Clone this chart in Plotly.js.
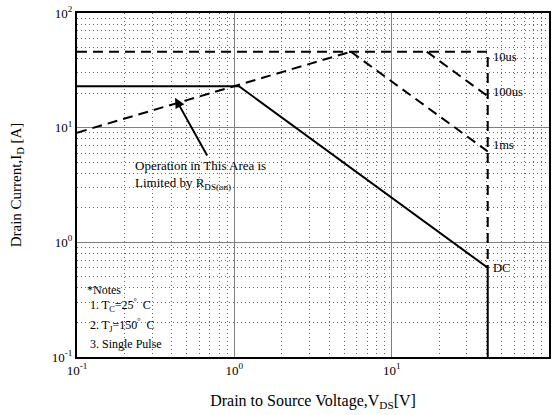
<!DOCTYPE html>
<html>
<head>
<meta charset="utf-8">
<script src="https://cdn.plot.ly/plotly-3.0.1.min.js"></script>
<style>
  html, body { margin: 0; padding: 0; background: #fff; }
  #soa { width: 558px; height: 415px; }
</style>
</head>
<body>
<div id="soa"></div>
<script>
// Safe operating area: drain current vs drain-source voltage
const dcVds = [0.1, 1.07, 40.8, 40.8];
const dcId = [23, 23, 0.6, 0.1];

const rdsVds = [0.1, 5.5];
const rdsId = [9.04, 46];

const us10Vds = [0.1, 40.8, 40.8];
const us10Id = [46, 46, 0.6];

const us100Vds = [16.7, 40.8];
const us100Id = [46, 18.8];

const ms1Vds = [5.5, 40.8];
const ms1Id = [46, 6.2];

const tickVals = [0.1, 1, 10, 100];
const tickText = ['10<sup>-1</sup>', '10<sup>0</sup>', '10<sup>1</sup>', '10<sup>2</sup>'];
const minorVals = [
  0.2, 0.3, 0.4, 0.5, 0.6, 0.7, 0.8, 0.9,
  2, 3, 4, 5, 6, 7, 8, 9,
  20, 30, 40, 50, 60, 70, 80, 90
];

const curveLabels = ['10us', '100us', '1ms', 'DC'];
const curveLabelVds = [40.8, 40.8, 40.8, 40.8];
const curveLabelId = [41, 20.5, 7.1, 0.6];

const noteLines = ['*Notes', ' 1. T<sub>C</sub>=25<sup>°</sup>  C', ' 2. T<sub>J</sub>=150<sup>°</sup>  C', ' 3. Single Pulse'];
const noteId = [0.385, 0.284, 0.19, 0.13];

const serif = "'Liberation Serif', 'Times New Roman', serif";
const dashPat = '10px,6px';

const traces = [
  { x: dcVds, y: dcId, mode: 'lines', line: { color: '#000', width: 2 } },
  { x: rdsVds, y: rdsId, mode: 'lines', line: { color: '#000', width: 2, dash: dashPat } },
  { x: us10Vds, y: us10Id, mode: 'lines', line: { color: '#000', width: 2, dash: dashPat } },
  { x: us100Vds, y: us100Id, mode: 'lines', line: { color: '#000', width: 2, dash: dashPat } },
  { x: ms1Vds, y: ms1Id, mode: 'lines', line: { color: '#000', width: 2, dash: dashPat } }
].map(t => Object.assign(t, { showlegend: false, hoverinfo: 'skip' }));

const annotations = [];
curveLabels.forEach((txt, i) => {
  annotations.push({
    x: Math.log10(curveLabelVds[i]), y: Math.log10(curveLabelId[i]),
    xref: 'x', yref: 'y', text: txt, showarrow: false,
    xanchor: 'left', xshift: 3, font: { family: serif, size: 12.5, color: '#000' }
  });
});
noteLines.forEach((txt, i) => {
  annotations.push({
    x: Math.log10(0.112), y: Math.log10(noteId[i]),
    xref: 'x', yref: 'y', text: txt, showarrow: false,
    xanchor: 'left', font: { family: serif, size: 12, color: '#000' }
  });
});
// Rds(on) limit callout
annotations.push({
  x: Math.log10(0.42), y: Math.log10(18.2), xref: 'x', yref: 'y',
  ax: Math.log10(0.68), ay: Math.log10(5.56), axref: 'x', ayref: 'y',
  text: '', showarrow: true, arrowhead: 2, arrowsize: 1, arrowwidth: 2, arrowcolor: '#000'
});
annotations.push({
  x: Math.log10(0.227), y: Math.log10(3.87), xref: 'x', yref: 'y',
  text: 'Operation in This Area is<br>Limited by R<sub>DS(on)</sub>',
  showarrow: false, align: 'left', xanchor: 'left',
  font: { family: serif, size: 13, color: '#000' }
});

const axisCommon = {
  type: 'log',
  tickvals: tickVals,
  ticktext: tickText,
  range: [-1, 2],
  showline: true, mirror: true, linecolor: '#000', linewidth: 2,
  showgrid: true, gridcolor: '#808080', gridwidth: 1.3,
  zeroline: false, ticks: '',
  tickfont: { family: serif, size: 13, color: '#000' },
  minor: { tickvals: minorVals, showgrid: true, gridcolor: '#666', gridwidth: 1, griddash: '1px,3px', ticks: '' }
};

const layout = {
  width: 558, height: 415,
  margin: { l: 77, r: 9, t: 13, b: 58 },
  paper_bgcolor: '#fff', plot_bgcolor: '#fff',
  font: { family: serif, color: '#000' },
  xaxis: Object.assign({}, axisCommon, {
    title: { text: 'Drain to Source Voltage,V<sub>DS</sub>[V]', font: { family: serif, size: 16, color: '#000' }, standoff: 18 }
  }),
  yaxis: Object.assign({}, axisCommon, {
    title: { text: 'Drain Current,I<sub>D</sub> [A]', font: { family: serif, size: 15, color: '#000' }, standoff: 27 }
  }),
  annotations: annotations
};

Plotly.newPlot('soa', traces, layout, { staticPlot: true, displayModeBar: false });
</script>
</body>
</html>
